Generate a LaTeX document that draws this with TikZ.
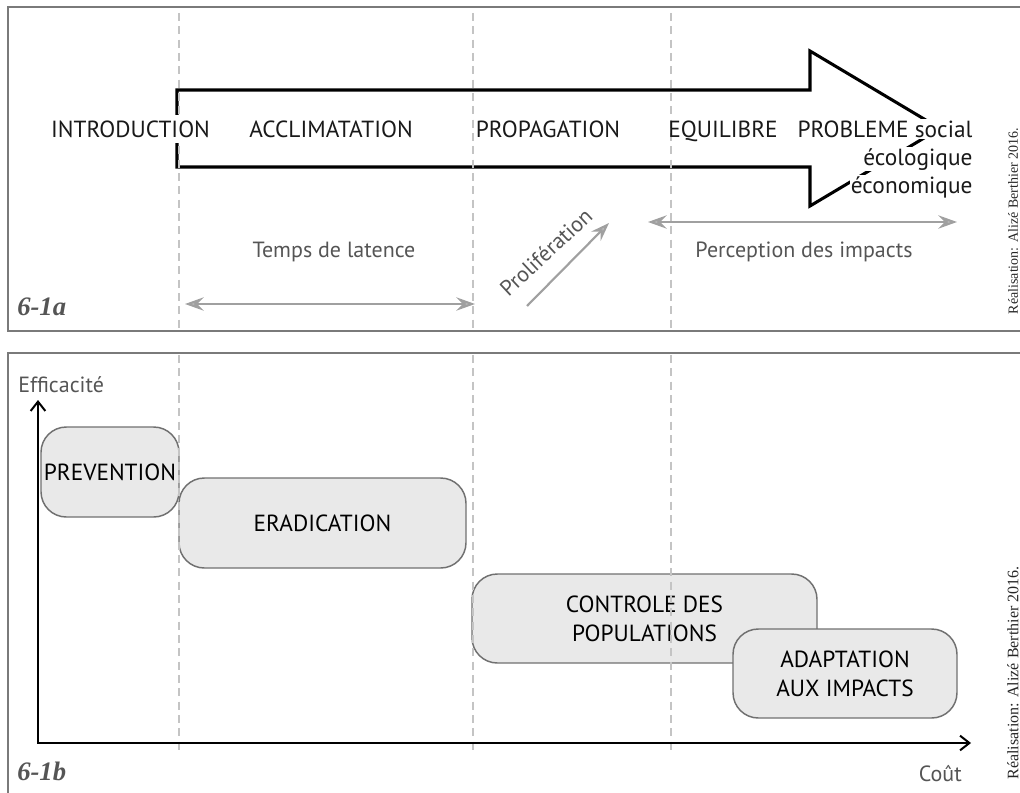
\documentclass[tikz,border=0pt]{standalone}
\usepackage{fontspec}
\setmainfont{PT Sans}
\newfontfamily\tms{Liberation Serif}
\usetikzlibrary{arrows.meta}
\definecolor{txtgray}{HTML}{555555}
\definecolor{framegray}{HTML}{7A7A7A}
\definecolor{dashgray}{HTML}{C4C4C4}
\definecolor{arrgray}{HTML}{A0A0A0}
\definecolor{boxfill}{HTML}{E9E9E9}
\definecolor{boxline}{HTML}{707070}
\tikzset{
  phase/.style={font=\fontsize{17.5}{21}\selectfont, text=black!90, inner sep=0pt, anchor=base},
  graytxt/.style={font=\fontsize{16.5}{20}\selectfont, text=txtgray, inner sep=0pt},
  panellabel/.style={font=\tms\bfseries\itshape\fontsize{20}{24}\selectfont, text=txtgray, inner sep=0pt, anchor=base west},
  credit/.style={font=\tms\fontsize{10.5}{12}\selectfont, text=black!85, rotate=90, inner sep=0pt},
  frame/.style={draw=framegray, line width=1.1pt},
  guide/.style={draw=dashgray, line width=0.8pt, dash pattern=on 6pt off 4pt},
  gtip/.style={Stealth[length=14pt,width=10pt,inset=5pt,fill=arrgray!70]},
  grayarrow/.style={draw=arrgray, line width=1.6pt, {Stealth[length=14pt,width=10pt,inset=5pt,fill=arrgray!70]}-{Stealth[length=14pt,width=10pt,inset=5pt,fill=arrgray!70]}},
  grayonearrow/.style={draw=arrgray, line width=1.6pt, -{Stealth[length=14pt,width=10pt,inset=5pt,fill=arrgray!70]}},
  axis/.style={draw=black, line width=1.8pt, -{Straight Barb[length=7pt,width=11pt,line width=1.5pt]}},
  stagebox/.style={draw=boxline, fill=boxfill, line width=1.1pt, rounded corners=19pt,
     font=\fontsize{17.5}{22}\selectfont, align=center, inner sep=0pt},
}
\begin{document}
\begin{tikzpicture}[x=0.75pt,y=-0.75pt]
\useasboundingbox (0,0) rectangle (1020,792);
% frames
\draw[frame] (1021,7) -- (8,7) -- (8,331) -- (1021,331);
\draw[frame] (1021,353) -- (8,353) -- (8,793);

% ---------- panel a ----------
\draw[line width=2.3pt, miter limit=10] (177,90) -- (810,90) -- (810,51) -- (940,128.5) -- (810,206) -- (810,167) -- (177,167) -- cycle;
\foreach \gx/\gn in {179/ga1,473/ga2,671/ga3}{
  \coordinate (\gn t) at (\gx,13);
  \coordinate (\gn b) at (\gx,329);
  \draw[guide] (\gn t) -- (\gn b);
}
\node[phase, fill=white, inner ysep=4pt] (intro) at (130.5,137) {INTRODUCTION};
\node[phase] (accl) at (331,137) {ACCLIMATATION};
\node[phase] (prop) at (548,137) {PROPAGATION};
\node[phase] (equi) at (723,137) {EQUILIBRE};
\node[phase, anchor=base east, fill=white, inner sep=1pt] (prob) at (974,137) {PROBLEME social};
\node[phase, anchor=base east, fill=white, inner sep=1pt] (eco1) at (974,165) {écologique};
\node[phase, anchor=base east, fill=white, inner sep=1pt] (eco2) at (974,193.5) {économique};

\coordinate (lat1) at (185,304);
\coordinate (lat2) at (475,304);
\draw[grayarrow] (lat1) -- (lat2);
\node[graytxt, anchor=base] (lat) at (334,257) {Temps de latence};

\coordinate (per1) at (648,222);
\coordinate (per2) at (957,222);
\draw[grayarrow] (per1) -- (per2);
\node[graytxt, anchor=base] (perc) at (804,257) {Perception des impacts};

\coordinate (pro1) at (527,306);
\coordinate (pro2) at (609,223);
\draw[grayonearrow] (pro1) -- (pro2);
\node[graytxt, rotate=43] (prol) at (546,252) {Prolifération};

\node[panellabel] (pa) at (17,315) {6-1a};
\node[credit] (cra) at (1013,221) {Réalisation: Alizé Berthier 2016.};

% ---------- panel b ----------
\node[stagebox, minimum width=103.5pt, minimum height=67.5pt] (prev) at (110,472) {PREVENTION};
\node[stagebox, minimum width=215.25pt, minimum height=67.5pt] (erad) at (322.5,523) {ERADICATION};
\node[stagebox, minimum width=258.75pt, minimum height=66.75pt] (ctrl) at (644.5,618.5) {CONTROLE DES\\POPULATIONS};
\node[stagebox, minimum width=168pt, minimum height=66.75pt] (adap) at (845,673.5) {ADAPTATION\\AUX IMPACTS};

\foreach \gx/\gn in {179/gb1,473/gb2,671/gb3}{
  \coordinate (\gn t) at (\gx,355);
  \coordinate (\gn b) at (\gx,752);
  \draw[guide] (\gn t) -- (\gn b);
}

\coordinate (orig) at (38,743);
\coordinate (ytop) at (38,400);
\coordinate (xend) at (971,743);
\draw[axis] (orig) -- (ytop);
\draw[axis] ([xshift=-0.6pt]orig) -- (xend);

\node[graytxt, anchor=base west] (eff) at (18,392) {Efficacité};
\node[graytxt, anchor=base east] (cout) at (962,781) {Coût};
\node[panellabel] (pb) at (17,780) {6-1b};
\node[credit, font=\tms\fontsize{12}{14}\selectfont] (crb) at (1013,673) {Réalisation: Alizé Berthier 2016.};
\end{tikzpicture}
\end{document}
